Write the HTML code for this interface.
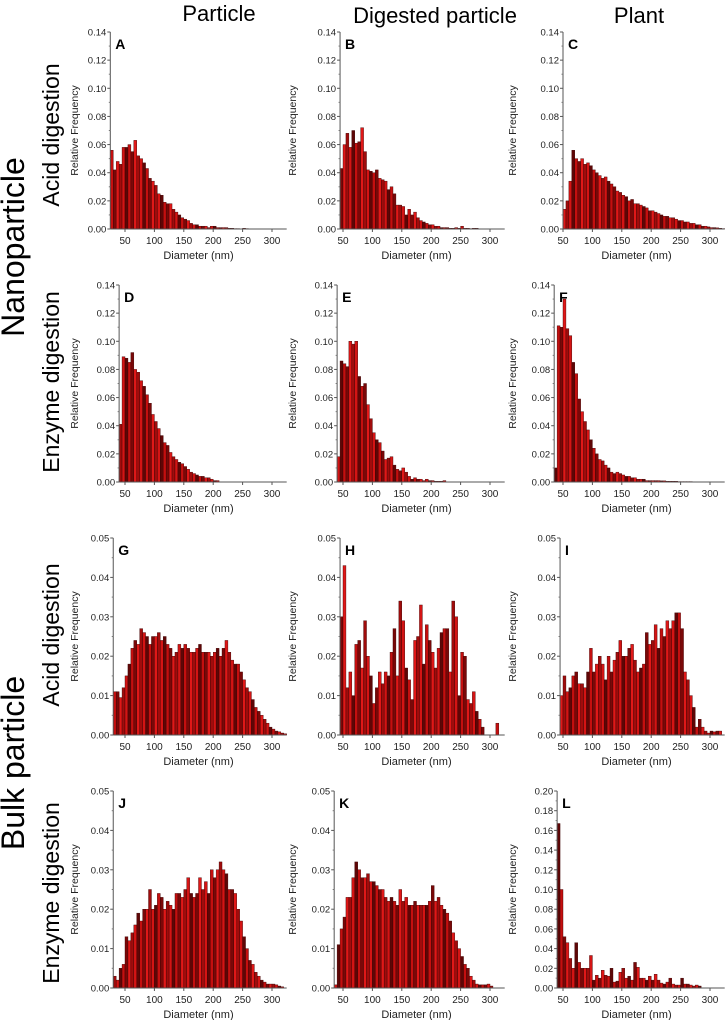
<!DOCTYPE html>
<html><head><meta charset="utf-8"><style>
body{margin:0;background:#fff;}
svg{display:block;font-family:"Liberation Sans",sans-serif;}
</style></head><body>
<svg id="fig" width="728" height="1020" viewBox="0 0 728 1020">
<text x="219" y="21" font-size="22" text-anchor="middle">Particle</text>
<text x="435" y="23" font-size="22" text-anchor="middle">Digested particle</text>
<text x="639" y="23" font-size="22" text-anchor="middle">Plant</text>
<text transform="translate(24,247) rotate(-90)" font-size="32" text-anchor="middle">Nanoparticle</text>
<text transform="translate(24,763) rotate(-90)" font-size="32" text-anchor="middle">Bulk particle</text>
<text transform="translate(59,135) rotate(-90)" font-size="23" text-anchor="middle">Acid digestion</text>
<text transform="translate(59,382) rotate(-90)" font-size="23" text-anchor="middle">Enzyme digestion</text>
<text transform="translate(59,635) rotate(-90)" font-size="23" text-anchor="middle">Acid digestion</text>
<text transform="translate(59,893) rotate(-90)" font-size="23" text-anchor="middle">Enzyme digestion</text>
</svg>
<script>
const panelLetters=["A","B","C","D","E","F","G","H","I","J","K","L"];
const panelStarts=[25,45,50,40,40,35,30,45,45,30,35,40];
const panelYMax=[0.14,0.14,0.14,0.14,0.14,0.14,0.05,0.05,0.05,0.05,0.05,0.2];
const xTicks=[50,100,150,200,250,300];
const yTicks14=[0,0.02,0.04,0.06,0.08,0.10,0.12,0.14];
const yTicks05=[0,0.01,0.02,0.03,0.04,0.05];
const yTicks20=[0,0.02,0.04,0.06,0.08,0.10,0.12,0.14,0.16,0.18,0.20];
const valsA=[0.056,0.042,0.048,0.046,0.058,0.058,0.06,0.055,0.063,0.052,0.05,0.047,0.043,0.036,0.034,0.031,0.025,0.024,0.019,0.018,0.018,0.014,0.012,0.01,0.008,0.007,0.006,0.004,0.003,0.003,0.002,0.002,0.002,0.001,0.002,0.002,0.001,0.001,0.001,0.001,0.0005,0.0005,0.0003,0.0003,0.0002,0.0005,0.0003];
const valsB=[0.043,0.06,0.068,0.058,0.07,0.061,0.062,0.072,0.055,0.042,0.041,0.04,0.042,0.036,0.035,0.034,0.028,0.03,0.025,0.017,0.017,0.016,0.01,0.014,0.01,0.012,0.008,0.006,0.005,0.004,0.003,0.003,0.002,0.002,0.001,0.001,0.001,0.0005,0.0005,0.001,0.0005,0.002,0.0005,0.0005,0.0003,0.0005,0.0005,0.0002];
const valsC=[0.014,0.02,0.034,0.056,0.05,0.048,0.05,0.046,0.047,0.045,0.042,0.04,0.038,0.036,0.037,0.034,0.032,0.03,0.027,0.026,0.024,0.023,0.02,0.021,0.018,0.018,0.017,0.016,0.015,0.013,0.013,0.012,0.011,0.01,0.009,0.009,0.008,0.008,0.007,0.006,0.006,0.005,0.005,0.004,0.004,0.003,0.003,0.002,0.002,0.0015,0.001,0.001,0.0008,0.0005,0.0003];
const valsD=[0.041,0.089,0.088,0.085,0.092,0.08,0.078,0.072,0.068,0.062,0.056,0.048,0.043,0.038,0.033,0.028,0.026,0.021,0.018,0.016,0.014,0.013,0.011,0.009,0.007,0.006,0.005,0.004,0.004,0.003,0.003,0.002,0.001,0.001];
const valsE=[0.018,0.086,0.084,0.082,0.1,0.098,0.1,0.075,0.068,0.07,0.055,0.045,0.035,0.03,0.028,0.022,0.016,0.017,0.018,0.012,0.009,0.008,0.01,0.007,0.004,0.002,0.003,0.002,0.002,0.001,0.002,0.001,0.001,0.0005,0.0005,0.0005,0.001];
const valsF=[0.01,0.111,0.11,0.13,0.109,0.104,0.085,0.077,0.059,0.05,0.043,0.037,0.03,0.024,0.02,0.016,0.015,0.012,0.01,0.007,0.006,0.007,0.006,0.005,0.004,0.004,0.003,0.003,0.002,0.002,0.002,0.001,0.001,0.001,0.001,0.001,0.0008,0.0008,0.0005,0.0005,0.0005,0.0005,0.0003,0.0003,0.0003,0.0003,0.0003];
const valsG=[0.011,0.011,0.0095,0.012,0.015,0.018,0.022,0.024,0.023,0.027,0.026,0.025,0.023,0.025,0.025,0.026,0.024,0.025,0.023,0.022,0.02,0.021,0.023,0.022,0.023,0.022,0.021,0.021,0.022,0.023,0.021,0.021,0.021,0.02,0.021,0.022,0.02,0.022,0.024,0.021,0.019,0.018,0.018,0.016,0.014,0.012,0.011,0.009,0.007,0.006,0.005,0.004,0.003,0.002,0.0015,0.001,0.0008,0.0005,0.0003];
const valsH=[0.03,0.043,0.012,0.016,0.01,0.023,0.024,0.017,0.029,0.02,0.015,0.008,0.012,0.016,0.013,0.016,0.015,0.021,0.027,0.015,0.034,0.029,0.017,0.014,0.009,0.024,0.025,0.033,0.018,0.028,0.024,0.021,0.017,0.022,0.026,0.027,0.027,0.016,0.034,0.03,0.01,0.021,0.02,0.009,0.008,0.011,0.006,0.004,0.002,0,0,0,0,0.003];
const valsI=[0.01,0.015,0.011,0.012,0.015,0.016,0.013,0.013,0.012,0.016,0.022,0.016,0.018,0.02,0.018,0.014,0.02,0.016,0.019,0.021,0.024,0.02,0.02,0.022,0.023,0.019,0.016,0.017,0.018,0.026,0.023,0.024,0.028,0.022,0.027,0.025,0.029,0.027,0.029,0.031,0.031,0.027,0.016,0.014,0.01,0.007,0.002,0.004,0.002,0.001,0.0005,0.001,0.0008,0.001,0.001];
const valsJ=[0.003,0.002,0.005,0.006,0.013,0.012,0.014,0.016,0.019,0.017,0.02,0.02,0.025,0.02,0.021,0.024,0.023,0.02,0.022,0.021,0.02,0.024,0.024,0.023,0.025,0.028,0.024,0.023,0.024,0.028,0.025,0.027,0.024,0.03,0.028,0.03,0.032,0.03,0.029,0.025,0.025,0.024,0.02,0.017,0.013,0.01,0.007,0.006,0.004,0.003,0.002,0.0015,0.001,0.001,0.001,0.0008,0.0005,0.0003];
const valsK=[0.0008,0.011,0.015,0.018,0.023,0.023,0.028,0.032,0.03,0.028,0.028,0.029,0.027,0.027,0.026,0.025,0.025,0.023,0.022,0.023,0.022,0.021,0.025,0.022,0.023,0.021,0.021,0.022,0.021,0.021,0.021,0.021,0.022,0.026,0.022,0.023,0.021,0.02,0.019,0.017,0.014,0.012,0.01,0.008,0.006,0.005,0.003,0.002,0.001,0.0008,0.0008,0.0008,0.001,0.0005];
const valsL=[0.167,0.1,0.052,0.046,0.03,0.02,0.046,0.026,0.02,0.02,0.02,0.033,0.008,0.013,0.01,0.018,0.013,0.012,0.02,0.006,0.007,0.016,0.02,0.01,0.012,0.008,0.026,0.021,0.01,0.01,0.008,0.012,0.008,0.014,0.008,0.005,0.004,0.006,0.01,0.004,0.003,0.003,0.01,0.004,0.004,0.003,0.002,0.003,0.002];
const allVals=[valsA,valsB,valsC,valsD,valsE,valsF,valsG,valsH,valsI,valsJ,valsK,valsL];

const NS="http://www.w3.org/2000/svg";
const svg=document.getElementById('fig');
const colX50=[125,343,563];
const rowTop=[32,285,538,791];
const rowBot=[229,482,735,988];
const PX=0.588, BIN=5, XEND=325;
const fills=["#c40f0f","#7a0808","#e01818","#a00c0c","#d41414","#5e0606"];
function mk(tag,attrs,parent){const e=document.createElementNS(NS,tag);for(const k in attrs)e.setAttribute(k,attrs[k]);(parent||svg).appendChild(e);return e;}

for(let p=0;p<12;p++){
  const col=p%3,row=Math.floor(p/3);
  const xs=nm=>colX50[col]+(nm-50)*PX;
  const top=rowTop[row],bot=rowBot[row],ymax=panelYMax[p];
  const ys=v=>bot-(v/ymax)*(bot-top);
  const g=mk('g',{});
  
  
  const ax0=xs(panelStarts[p]);
  const vals=allVals[p];
  vals.forEach((v,i)=>{
    const x=xs(panelStarts[p]+i*BIN);
    const r=mk('rect',{x:x,y:ys(v),width:BIN*PX,height:bot-ys(v),fill:fills[(i*7+p)%fills.length],stroke:"#3a0000","stroke-width":0.4},g);
    
    
  });
  const yl=mk('line',{x1:ax0,y1:top,x2:ax0,y2:bot,stroke:"#555","stroke-width":1},g);
  
  
  const xl=mk('line',{x1:ax0,y1:bot,x2:xs(XEND),y2:bot,stroke:"#555","stroke-width":1},g);
  
  
  const yt=ymax===0.14?yTicks14:(ymax===0.05?yTicks05:yTicks20);
  yt.forEach((t,k)=>{
    mk('line',{x1:ax0-3,y1:ys(t),x2:ax0,y2:ys(t),stroke:"#555"},g);
    if(k>0){const mid=(t+yt[k-1])/2;mk('line',{x1:ax0-1.5,y1:ys(mid),x2:ax0,y2:ys(mid),stroke:"#777"},g);}
    const tx=mk('text',{x:ax0-4,y:ys(t)+3.5,"font-size":9.5,"text-anchor":"end",fill:"#222"},g);
    tx.textContent=t.toFixed(2);
    
    
  });
  xTicks.forEach(t=>{
    mk('line',{x1:xs(t),y1:bot,x2:xs(t),y2:bot+3,stroke:"#555"},g);
    const tx=mk('text',{x:xs(t),y:bot+15,"font-size":10,"text-anchor":"middle",fill:"#222"},g);
    tx.textContent=t;
    
    
  });
  const xt=mk('text',{x:(xs(50)+xs(300))/2,y:bot+30,"font-size":11,"text-anchor":"middle",fill:"#222"},g);
  xt.textContent="Diameter (nm)";
  
  
  const ytt=mk('text',{transform:`translate(${xs(50)-47},${(top+bot)/2}) rotate(-90)`,"font-size":10.5,"text-anchor":"middle",fill:"#222"},g);
  ytt.textContent="Relative Frequency";
  
  
  const lt=mk('text',{x:ax0+5,y:top+17,"font-size":14,"font-weight":"bold",fill:"#000"},g);
  lt.textContent=panelLetters[p];
  
  
}
</script>
</body></html>
